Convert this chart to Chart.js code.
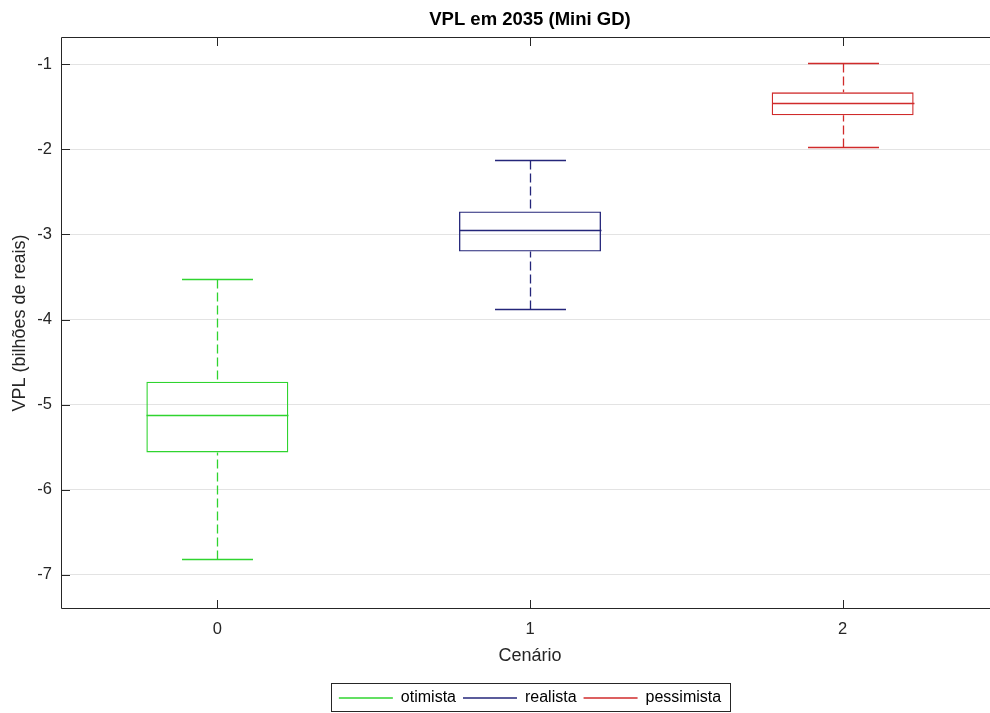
<!DOCTYPE html>
<html>
<head>
<meta charset="utf-8">
<title>VPL em 2035 (Mini GD)</title>
<script src="https://cdn.jsdelivr.net/npm/chart.js@4/dist/chart.umd.min.js"></script>
<style>
  html, body { margin: 0; padding: 0; background: #fff; overflow: hidden; }
  #wrap { position: absolute; left: 0; top: 0; width: 1060px; height: 713px; }
</style>
</head>
<body>
<div id="wrap"><canvas id="boxChart" width="1060" height="713"></canvas></div>
<script>
const categories = ["0", "1", "2"];
const seriesNames = ["otimista", "realista", "pessimista"];
const seriesColors = ["#2fd42f", "#24267a", "#d02b2b"];

// five-number summaries, one entry per scenario (billions of reais)
const whiskerLow = [-6.81, -3.87, -1.975];
const q1 = [-5.56, -3.20, -1.60];
const median = [-5.12, -2.95, -1.46];
const q3 = [-4.73, -2.73, -1.33];
const whiskerHigh = [-3.52, -2.12, -0.98];

const yTicks = [-7, -6, -5, -4, -3, -2, -1];

const axisColor = "#262626";
const fontFamily = "'Liberation Sans', Arial, Helvetica, sans-serif";

const snap = (v) => Math.round(v) + 0.5;

// median line + dashed whiskers with caps, placed on the bar elements
const boxParts = {
  id: "boxParts",
  afterDatasetsDraw(chart) {
    const { ctx } = chart;
    const y = chart.scales.y;
    chart.data.datasets.forEach((ds, i) => {
      const el = chart.getDatasetMeta(i).data[i];
      if (!el) return;
      const half = el.width / 2;
      const x = snap(el.x);
      const yMed = snap(y.getPixelForValue(median[i]));
      const yQ1 = y.getPixelForValue(q1[i]);
      const yQ3 = y.getPixelForValue(q3[i]);
      const yLo = snap(y.getPixelForValue(whiskerLow[i]));
      const yHi = snap(y.getPixelForValue(whiskerHigh[i]));
      ctx.save();
      ctx.strokeStyle = ds.borderColor;
      ctx.lineWidth = 1.3;
      ctx.beginPath();
      ctx.moveTo(x - half, yMed);
      ctx.lineTo(x + half, yMed);
      ctx.moveTo(x - half / 2, yLo);
      ctx.lineTo(x + half / 2, yLo);
      ctx.moveTo(x - half / 2, yHi);
      ctx.lineTo(x + half / 2, yHi);
      ctx.stroke();
      ctx.setLineDash([9, 4]);
      ctx.beginPath();
      ctx.moveTo(x, yHi);
      ctx.lineTo(x, yQ3);
      ctx.moveTo(x, yLo);
      ctx.lineTo(x, yQ1);
      ctx.stroke();
      ctx.restore();
    });
  },
};

// axes box with inward tick marks, and a frame around the legend
const frame = {
  id: "frame",
  afterDraw(chart) {
    const { ctx, chartArea: a } = chart;
    const tl = 9;
    ctx.save();
    ctx.strokeStyle = axisColor;
    ctx.lineWidth = 1;
    ctx.beginPath();
    ctx.rect(a.left + 0.5, a.top + 0.5, a.right - a.left - 1, a.bottom - a.top - 1);
    const ys = chart.scales.y;
    ys.ticks.forEach((t, i) => {
      const py = snap(ys.getPixelForTick(i));
      ctx.moveTo(a.left, py);
      ctx.lineTo(a.left + tl, py);
      ctx.moveTo(a.right, py);
      ctx.lineTo(a.right - tl, py);
    });
    const xs = chart.scales.x;
    xs.ticks.forEach((t, i) => {
      const px = snap(xs.getPixelForTick(i));
      ctx.moveTo(px, a.bottom);
      ctx.lineTo(px, a.bottom - tl);
      ctx.moveTo(px, a.top);
      ctx.lineTo(px, a.top + tl);
    });
    ctx.stroke();

    const hb = chart.legend.legendHitBoxes;
    if (hb && hb.length) {
      const first = hb[0];
      const last = hb[hb.length - 1];
      const cy = first.top + first.height / 2;
      const left = Math.round(first.left - 8) + 0.5;
      const right = Math.round(last.left + last.width + 9) + 0.5;
      const top = Math.round(cy - 15.5) + 0.5;
      ctx.strokeRect(left, top, right - left, 28);
    }
    ctx.restore();
  },
};

const datasets = seriesNames.map((name, i) => ({
  label: name,
  data: categories.map((_, j) => (j === i ? [q1[i], q3[i]] : null)),
  borderColor: seriesColors[i],
  backgroundColor: "rgba(255,255,255,0)",
  borderWidth: 1.3,
  borderSkipped: false,
  grouped: false,
  barPercentage: 0.454,
  categoryPercentage: 1,
}));

new Chart(document.getElementById("boxChart"), {
  type: "bar",
  data: { labels: categories, datasets },
  plugins: [boxParts, frame],
  options: {
    responsive: false,
    animation: false,
    devicePixelRatio: 1,
    events: [],
    layout: { padding: { left: 0, right: 0, top: 0, bottom: -3 } },
    plugins: {
      tooltip: { enabled: false },
      title: {
        display: true,
        text: "VPL em 2035 (Mini GD)",
        color: "#000",
        font: { family: fontFamily, size: 18.5, weight: "bold" },
        padding: { top: 8.9, bottom: 5.9 },
      },
      legend: {
        position: "bottom",
        labels: {
          usePointStyle: true,
          pointStyle: "line",
          pointStyleWidth: 54,
          padding: 7,
          color: "#000",
          font: { family: fontFamily, size: 16 },
        },
      },
    },
    scales: {
      x: {
        type: "category",
        offset: true,
        grid: { display: false, drawTicks: false },
        border: { display: false },
        ticks: { color: axisColor, padding: 11, font: { family: fontFamily, size: 16.5 } },
        title: {
          display: true,
          text: "Cenário",
          color: axisColor,
          font: { family: fontFamily, size: 18 },
          padding: { top: 0, bottom: 16 },
        },
        afterFit: (s) => { s.height = 74; },
      },
      y: {
        min: -7.4,
        max: -0.68,
        grid: { color: "#e3e3e3", drawTicks: false },
        border: { display: false },
        ticks: {
          stepSize: 1,
          color: axisColor,
          padding: 9,
          font: { family: fontFamily, size: 16.5 },
          callback: (v) => String(v),
        },
        afterBuildTicks: (s) => {
          s.ticks = yTicks.map((v) => ({ value: v }));
        },
        title: {
          display: true,
          text: "VPL (bilhões de reais)",
          color: axisColor,
          font: { family: fontFamily, size: 18 },
          padding: { top: 9.2, bottom: 0 },
        },
        afterFit: (s) => { s.width = 61; },
      },
      y2: {
        position: "right",
        min: -7.4,
        max: -0.68,
        grid: { display: false, drawTicks: false },
        border: { display: false },
        ticks: { display: false },
        afterFit: (s) => { s.width = 61; },
      },
    },
  },
});
</script>
</body>
</html>
